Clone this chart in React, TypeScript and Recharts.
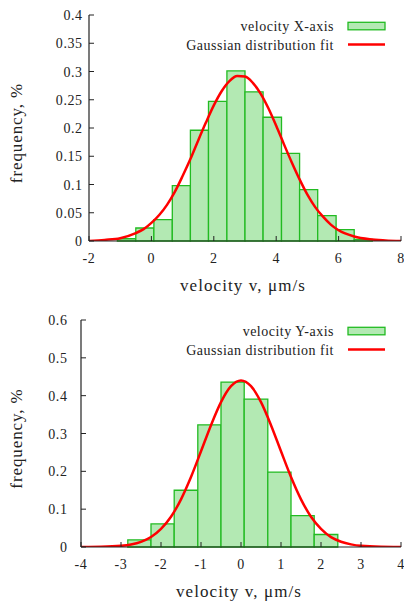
import React from 'react';
import { ComposedChart, Line, XAxis, YAxis, ReferenceArea, Legend, Label } from 'recharts';

// ---------- top panel (X-axis velocity) ----------
const xTicksTop = [-2, 0, 2, 4, 6, 8];
const yTicksTop = [0, 0.05, 0.1, 0.15, 0.2, 0.25, 0.3, 0.35, 0.4];
const binEdgesX = [-1.09, -0.5, 0.08, 0.67, 1.25, 1.83, 2.42, 3.0, 3.58, 4.17, 4.75, 5.33, 5.92, 6.5, 7.08];
const freqX = [0.004, 0.023, 0.038, 0.098, 0.196, 0.247, 0.301, 0.264, 0.219, 0.155, 0.091, 0.045, 0.02, 0.003];
const fitXv = [-2, -1.5, -1, -0.5, -0.25, 0, 0.25, 0.5, 0.75, 1, 1.25, 1.5, 1.75, 2, 2.25, 2.5, 2.75, 3, 3.25, 3.5, 3.75, 4, 4.25, 4.5, 4.75, 5, 5.25, 5.5, 5.75, 6, 6.5, 7, 7.5, 8];
const fitXf = [0, 0.002, 0.005, 0.014, 0.021, 0.032, 0.046, 0.064, 0.087, 0.115, 0.145, 0.178, 0.21, 0.24, 0.265, 0.283, 0.292, 0.291, 0.28, 0.261, 0.235, 0.204, 0.171, 0.139, 0.109, 0.082, 0.06, 0.043, 0.029, 0.019, 0.008, 0.003, 0.001, 0];

// ---------- bottom panel (Y-axis velocity) ----------
const xTicksBottom = [-4, -3, -2, -1, 0, 1, 2, 3, 4];
const yTicksBottom = [0, 0.1, 0.2, 0.3, 0.4, 0.5, 0.6];
const binEdgesY = [-2.83, -2.25, -1.67, -1.08, -0.5, 0.08, 0.67, 1.25, 1.83, 2.42];
const freqY = [0.019, 0.061, 0.15, 0.323, 0.436, 0.391, 0.198, 0.083, 0.033];
const fitYv = [-4, -3.5, -3, -2.75, -2.5, -2.25, -2, -1.75, -1.5, -1.25, -1, -0.75, -0.5, -0.25, 0, 0.25, 0.5, 0.75, 1, 1.25, 1.5, 1.75, 2, 2.25, 2.5, 2.75, 3, 3.5, 4];
const fitYf = [0, 0.0005, 0.003, 0.0066, 0.0137, 0.0264, 0.048, 0.08, 0.126, 0.185, 0.253, 0.322, 0.383, 0.425, 0.44, 0.425, 0.383, 0.322, 0.253, 0.185, 0.126, 0.08, 0.048, 0.026, 0.014, 0.007, 0.003, 0.0005, 0];

const FONT = 'Liberation Serif, serif';
const TEXT = '#222';
const AXIS = '#222';
const BAR_FILL = '#b3e9b3';
const BAR_STROKE = '#22bb22';
const FIT = '#ff0000';

const txt = (size: number, spacing: number) => ({ fontFamily: FONT, fontSize: size, letterSpacing: spacing, fill: TEXT });

const EmptyTick = () => <g />;

const XTick = (props: any) => (
  <text x={props.x} y={props.y + 10} textAnchor="middle" style={txt(14, 0.6)}>
    {String(props.payload.value)}
  </text>
);

const YTick = (props: any) => (
  <text x={props.x} y={props.y + 5} textAnchor="end" style={txt(14, 0.6)}>
    {String(props.payload.value)}
  </text>
);

const LegendBox = ({ label }: { label: string }) => (
  <svg width={260} height={40} style={{ display: 'block', overflow: 'visible' }}>
    <text x={194} y={16} textAnchor="end" style={txt(14, 0.5)}>{label}</text>
    <rect x={208} y={7.3} width={37} height={7.5} fill={BAR_FILL} stroke={BAR_STROKE} strokeWidth={1.3} />
    <text x={194} y={34.5} textAnchor="end" style={txt(14, 0.5)}>Gaussian distribution fit</text>
    <line x1={208} x2={245} y1={29.5} y2={29.5} stroke={FIT} strokeWidth={2.5} />
  </svg>
);

type PanelProps = {
  height: number;
  top: number;
  yAxisWidth: number;
  xAxisHeight: number;
  yTickMargin: number;
  legendTop: number;
  legendLabel: string;
  edges: number[];
  freq: number[];
  fitV: number[];
  fitF: number[];
  xTicks: number[];
  yTicks: number[];
};

const Panel = (p: PanelProps) => {
  const data = p.fitV.map((v, i) => ({ v, f: p.fitF[i] }));
  const xDomain: [number, number] = [p.xTicks[0], p.xTicks[p.xTicks.length - 1]];
  const yDomain: [number, number] = [p.yTicks[0], p.yTicks[p.yTicks.length - 1]];
  const renderXLabel = (props: any) => {
    const vb = props.viewBox || {};
    return (
      <text x={vb.x + vb.width / 2 - 2} y={vb.y + 50} textAnchor="middle" style={txt(17, 1.1)}>
        velocity v, μm/s
      </text>
    );
  };
  const renderYLabel = (props: any) => {
    const vb = props.viewBox || {};
    const cx = 22;
    const cy = vb.y + vb.height / 2 + 5;
    return (
      <text x={cx} y={cy} transform={`rotate(-90, ${cx}, ${cy})`} textAnchor="middle" style={txt(17, 0.9)}>
        frequency, %
      </text>
    );
  };
  return (
    <ComposedChart
      width={404}
      height={p.height}
      data={data}
      margin={{ top: p.top, right: 3, bottom: 0, left: 0 }}
      style={{ fontFamily: FONT }}
    >
      <XAxis
        dataKey="v"
        type="number"
        domain={xDomain}
        ticks={p.xTicks}
        interval={0}
        allowDataOverflow
        height={p.xAxisHeight}
        tickSize={-5}
        tickMargin={17}
        axisLine={{ stroke: AXIS, strokeWidth: 1.2 }}
        tickLine={{ stroke: AXIS }}
        tick={<XTick />}
      >
        <Label content={renderXLabel} />
      </XAxis>
      <XAxis
        xAxisId="top"
        orientation="top"
        dataKey="v"
        type="number"
        domain={xDomain}
        ticks={p.xTicks}
        interval={0}
        allowDataOverflow
        height={0}
        tickSize={-5}
        axisLine={{ stroke: AXIS }}
        tickLine={{ stroke: AXIS }}
        tick={<EmptyTick />}
      />
      <YAxis
        type="number"
        domain={yDomain}
        ticks={p.yTicks}
        interval={0}
        allowDataOverflow
        width={p.yAxisWidth}
        tickSize={-5}
        tickMargin={p.yTickMargin}
        axisLine={{ stroke: AXIS, strokeWidth: 1.2 }}
        tickLine={{ stroke: AXIS }}
        tick={<YTick />}
      >
        <Label content={renderYLabel} />
      </YAxis>
      <YAxis
        yAxisId="right"
        orientation="right"
        type="number"
        domain={yDomain}
        ticks={p.yTicks}
        interval={0}
        allowDataOverflow
        width={0}
        tickSize={-5}
        axisLine={{ stroke: AXIS }}
        tickLine={{ stroke: AXIS }}
        tick={<EmptyTick />}
      />
      {p.freq.map((f, i) => (
        <ReferenceArea
          key={i}
          x1={p.edges[i]}
          x2={p.edges[i + 1]}
          y1={0}
          y2={f}
          fill={BAR_FILL}
          fillOpacity={1}
          stroke={BAR_STROKE}
          strokeWidth={1.3}
          ifOverflow="visible"
        />
      ))}
      <Line
        type="monotone"
        dataKey="f"
        name="Gaussian distribution fit"
        stroke={FIT}
        strokeWidth={2.5}
        dot={false}
        activeDot={false}
        isAnimationActive={false}
      />
      <Legend
        layout="vertical"
        align="center"
        verticalAlign="middle"
        content={() => <LegendBox label={p.legendLabel} />}
        wrapperStyle={{ position: 'absolute', left: 140, top: p.legendTop, width: 260, height: 40 }}
      />
    </ComposedChart>
  );
};

export default function App() {
  return (
    <div style={{ position: 'absolute', left: 0, top: 0, width: 404, height: 601, background: '#fff' }}>
      <Panel
        height={300}
        top={15}
        yAxisWidth={89}
        xAxisHeight={59}
        yTickMargin={11.3}
        legendTop={15}
        legendLabel="velocity X-axis"
        edges={binEdgesX}
        freq={freqX}
        fitV={fitXv}
        fitF={fitXf}
        xTicks={xTicksTop}
        yTicks={yTicksTop}
      />
      <Panel
        height={301}
        top={20}
        yAxisWidth={81}
        xAxisHeight={54}
        yTickMargin={18.5}
        legendTop={20}
        legendLabel="velocity Y-axis"
        edges={binEdgesY}
        freq={freqY}
        fitV={fitYv}
        fitF={fitYf}
        xTicks={xTicksBottom}
        yTicks={yTicksBottom}
      />
    </div>
  );
}
